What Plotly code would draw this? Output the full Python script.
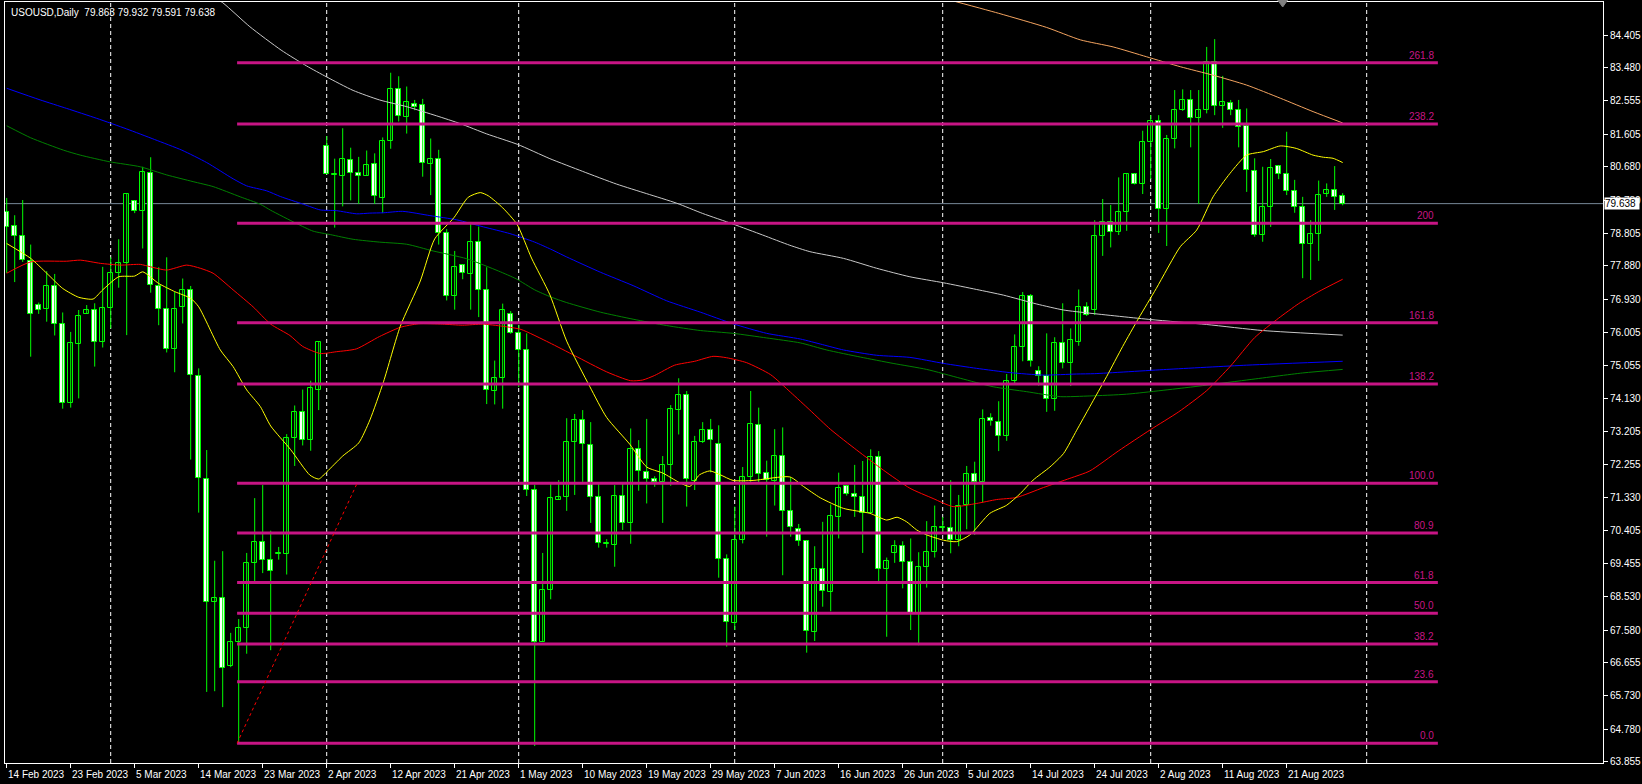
import plotly.graph_objects as go

# ---------------- data ----------------
date_labels = ["14 Feb 2023", "23 Feb 2023", "5 Mar 2023", "14 Mar 2023", "23 Mar 2023",
               "2 Apr 2023", "12 Apr 2023", "21 Apr 2023", "1 May 2023", "10 May 2023",
               "19 May 2023", "29 May 2023", "7 Jun 2023", "16 Jun 2023", "26 Jun 2023",
               "5 Jul 2023", "14 Jul 2023", "24 Jul 2023", "2 Aug 2023", "11 Aug 2023",
               "21 Aug 2023"]
label_bars = [0, 8, 16, 24, 32, 40, 48, 56, 64, 72, 80, 88, 96, 104, 112, 120, 128, 136, 144, 152, 160]
month_start_bars = [13, 40, 64, 91, 117, 143, 170]

price_ticks = [84.405, 83.480, 82.555, 81.605, 80.680, 79.730, 78.805, 77.880, 76.930, 76.005,
               75.055, 74.130, 73.205, 72.255, 71.330, 70.405, 69.455, 68.530, 67.580, 66.655,
               65.730, 64.780, 63.855]

opens = [79.40, 79.00, 78.73, 78.01, 76.78, 76.65, 77.31, 76.23, 73.99, 75.66,
         76.53, 76.64, 75.73, 76.70, 77.67, 77.97, 79.72, 79.43, 80.51, 77.31,
         76.65, 75.52, 76.72, 77.20, 74.76, 71.85, 68.36, 68.50, 66.55, 67.24,
         67.65, 69.47, 70.07, 69.57, 69.74, 69.73, 73.01, 73.76, 72.94, 74.38,
         81.28, 80.45, 80.43, 80.88, 80.50, 80.43, 80.77, 79.81, 81.40, 82.89,
         82.10, 82.45, 82.44, 80.76, 80.91, 78.82, 77.04, 77.89, 77.65, 78.54,
         77.20, 74.35, 74.70, 76.53, 75.99, 75.49, 71.54, 67.25, 68.71, 71.27,
         71.33, 72.89, 73.51, 72.80, 71.33, 70.02, 69.99, 71.36, 70.61, 72.69,
         72.06, 71.84, 71.78, 72.26, 73.79, 74.22, 71.80, 72.89, 73.23, 72.85,
         69.58, 67.77, 70.12, 71.90, 73.39, 72.01, 71.80, 72.49, 70.95, 70.44,
         70.09, 67.53, 69.32, 68.66, 70.78, 71.65, 71.44, 71.35, 70.89, 72.46,
         69.32, 69.75, 69.97, 69.51, 68.02, 69.37, 69.79, 70.47, 70.47, 70.14,
         71.11, 71.98, 71.77, 73.59, 73.47, 73.07, 74.63, 75.59, 77.03, 74.91,
         74.77, 74.10, 75.69, 75.14, 75.73, 76.72, 76.63, 78.73, 79.13, 78.83,
         79.41, 80.47, 80.18, 81.39, 81.97, 79.50, 81.46, 82.28, 82.56, 82.05,
         82.30, 83.63, 82.40, 82.49, 82.28, 81.84, 80.57, 78.75, 79.53, 80.70,
         80.49, 80.00, 79.55, 78.49, 78.77, 79.90, 80.01, 79.863]
highs = [79.80, 79.31, 79.74, 78.48, 76.84, 77.73, 77.65, 76.56, 76.01, 76.63,
         76.77, 76.82, 77.85, 78.12, 78.63, 79.91, 79.74, 80.68, 80.95, 77.84,
         78.12, 77.14, 77.52, 77.31, 74.98, 72.67, 69.54, 69.81, 67.50, 67.89,
         69.76, 71.31, 71.68, 70.39, 69.93, 73.12, 73.93, 74.38, 74.63, 75.75,
         81.55, 80.91, 81.77, 81.22, 80.96, 81.14, 81.06, 81.51, 83.34, 83.24,
         82.95, 82.57, 82.60, 81.48, 81.16, 78.92, 78.30, 77.91, 79.12, 78.99,
         77.84, 75.20, 76.81, 76.60, 76.21, 75.97, 71.69, 69.76, 71.73, 71.82,
         73.57, 73.69, 73.80, 73.46, 71.76, 70.15, 71.68, 71.72, 73.28, 72.95,
         73.55, 71.93, 72.50, 73.94, 74.70, 74.34, 73.07, 73.46, 73.55, 73.37,
         69.72, 71.07, 72.19, 74.34, 73.87, 72.37, 73.26, 73.31, 71.90, 70.58,
         70.12, 69.95, 70.64, 71.13, 72.03, 71.68, 72.25, 72.36, 72.69, 72.64,
         69.63, 70.12, 70.09, 70.17, 69.78, 70.66, 71.10, 70.78, 71.82, 71.40,
         72.22, 72.34, 73.82, 73.71, 74.05, 74.82, 75.94, 77.14, 77.08, 75.04,
         75.97, 75.86, 76.82, 76.11, 77.21, 76.85, 79.17, 79.77, 79.60, 80.38,
         80.49, 80.49, 81.70, 82.14, 82.14, 81.58, 82.85, 82.87, 82.85, 82.85,
         84.07, 84.29, 83.25, 82.57, 82.57, 82.33, 80.92, 80.68, 80.90, 80.71,
         81.67, 80.31, 79.83, 79.17, 80.29, 80.21, 80.70, 79.932]
lows = [77.68, 77.42, 77.99, 75.31, 76.52, 76.30, 75.91, 73.84, 73.87, 74.13,
        76.53, 75.03, 75.57, 76.11, 77.26, 75.92, 79.37, 78.37, 77.12, 76.20,
        75.43, 74.87, 76.25, 72.40, 70.90, 65.83, 65.85, 65.40, 66.53, 64.38,
        66.91, 68.92, 69.19, 67.01, 69.57, 69.15, 72.22, 72.80, 72.65, 73.80,
        80.47, 78.96, 79.56, 79.73, 79.63, 80.42, 79.63, 79.37, 81.19, 81.96,
        81.62, 82.28, 80.40, 79.88, 78.48, 76.90, 76.64, 77.50, 76.64, 76.43,
        73.97, 73.96, 73.84, 75.96, 74.45, 71.37, 64.30, 67.24, 68.45, 71.27,
        70.95, 71.40, 71.77, 70.61, 69.91, 69.91, 69.37, 70.41, 70.02, 71.52,
        71.16, 71.63, 70.61, 71.66, 73.11, 71.07, 71.54, 72.87, 72.04, 69.06,
        67.11, 67.58, 70.03, 71.77, 71.76, 70.22, 71.10, 69.13, 70.22, 69.96,
        66.94, 67.27, 68.24, 68.11, 70.17, 71.38, 70.78, 69.76, 70.89, 68.95,
        67.39, 69.48, 68.76, 67.58, 67.15, 68.78, 69.63, 70.33, 69.75, 69.95,
        70.43, 70.27, 71.19, 73.36, 72.64, 72.93, 74.51, 75.18, 75.03, 74.49,
        73.75, 73.78, 74.98, 74.48, 75.62, 76.46, 76.49, 78.16, 78.40, 78.75,
        78.87, 80.18, 79.91, 80.33, 78.81, 78.44, 81.20, 82.26, 81.23, 79.63,
        82.19, 82.14, 81.78, 82.14, 81.23, 79.97, 78.70, 78.56, 78.98, 80.33,
        79.88, 79.38, 77.53, 77.48, 78.02, 79.83, 79.46, 79.591]
closes = [78.97, 78.73, 78.04, 76.52, 76.64, 77.31, 76.23, 73.99, 75.69, 76.47,
          76.63, 75.73, 76.70, 77.68, 77.97, 79.90, 79.43, 80.54, 77.34, 76.65,
          75.52, 76.67, 77.20, 74.79, 71.87, 68.38, 68.50, 66.50, 67.25, 67.65,
          69.47, 70.07, 69.57, 69.26, 69.75, 73.01, 73.76, 72.94, 74.42, 75.73,
          80.49, 80.49, 80.91, 80.50, 80.42, 80.74, 79.84, 81.40, 82.89, 82.11,
          82.51, 82.37, 80.78, 80.90, 78.82, 77.04, 77.86, 77.67, 78.54, 77.20,
          74.37, 74.70, 76.62, 75.97, 75.49, 71.53, 67.23, 68.70, 71.30, 71.33,
          72.89, 73.51, 72.83, 71.33, 70.03, 70.03, 71.36, 70.62, 72.69, 72.07,
          71.84, 71.78, 72.24, 73.82, 74.22, 71.84, 72.89, 73.23, 72.95, 69.58,
          67.80, 70.12, 71.90, 73.42, 72.00, 71.82, 72.49, 70.95, 70.48, 70.09,
          67.55, 69.32, 68.69, 70.80, 71.61, 71.43, 71.33, 70.89, 72.46, 69.32,
          69.54, 69.97, 69.51, 68.02, 69.37, 69.79, 70.48, 70.48, 70.14, 71.10,
          71.98, 71.77, 73.56, 73.48, 73.06, 74.63, 75.59, 77.03, 75.18, 74.77,
          74.10, 75.69, 75.14, 75.78, 76.72, 76.48, 78.73, 79.13, 78.83, 79.41,
          80.47, 80.18, 81.39, 81.97, 79.50, 81.46, 82.28, 82.56, 82.05, 82.28,
          83.63, 82.40, 82.52, 82.30, 81.81, 80.59, 78.75, 79.53, 80.64, 80.49,
          80.00, 79.55, 78.51, 78.77, 79.87, 80.01, 79.83, 79.638]

ma_yellow_x = [0, 3, 5, 7, 9, 10.8, 12, 14, 16, 17, 19, 21, 23, 24, 26.7, 28.3, 30, 31.7, 33, 35.5,
               37.9, 39, 40, 42, 44, 45.4, 47.1, 49.2, 51.7, 53.5, 55.9, 57.7, 59.2, 60.2, 62, 63.8,
               65.6, 67.9, 70, 72.9, 75, 77.9, 80, 82, 84.1, 85.4, 86.6, 87.9, 89.2, 90.8, 93.3,
               97.9, 99.6, 101.7, 104.6, 107.9, 110, 111.3, 112.5, 113.75, 115, 117.1, 118.75,
               120.4, 122.9, 125, 126.7, 128.3, 130.4, 132.1, 133.75, 135.4, 137.5, 139.5, 141.5,
               143.7, 146.7, 148.75, 150.8, 152.9, 155, 157.1, 159.2, 161.2, 163.3, 164.6, 165.8, 167]
ma_yellow_y = [78.51, 78.09, 77.67, 77.24, 76.99, 76.94, 77.20, 77.57, 77.59, 77.71, 77.38, 77.15,
               76.96, 76.72, 75.50, 75.03, 74.37, 73.90, 73.35, 72.68, 71.96, 71.85, 72.05, 72.50,
               72.87, 73.52, 74.60, 76.17, 77.45, 78.64, 79.24, 79.82, 79.95, 79.86, 79.52, 79.05,
               78.10, 77.06, 75.75, 74.46, 73.59, 72.83, 72.19, 72.02, 71.75, 71.64, 71.97, 72.08,
               71.97, 71.81, 71.81, 71.91, 71.64, 71.32, 71.02, 70.88, 70.69, 70.77, 70.64, 70.41,
               70.27, 70.12, 70.08, 70.27, 70.88, 71.11, 71.44, 71.82, 72.19, 72.57, 73.23, 73.90,
               74.75, 75.60, 76.40, 77.24, 78.42, 78.89, 79.83, 80.49, 81.01, 81.11, 81.27, 81.20,
               81.01, 80.95, 80.92, 80.80]

ma_red_x = [0, 3, 7.5, 9.2, 11.7, 14.2, 16.7, 18, 20, 22.5, 24.2, 25.8, 28.3, 30.8, 33, 35.4, 37,
            39.2, 41.2, 43.7, 46.6, 49.2, 51.5, 54.5, 57, 59.5, 62, 64.3, 67.8, 71, 75, 78, 79.5,
            81, 83.5, 86, 88.3, 90, 92.5, 95.5, 98, 100.4, 103, 106.25, 109.6, 112.9, 115.8,
            118.3, 121.25, 123.75, 126.25, 129.6, 132.9, 135.4, 139, 143, 146.5, 150, 153, 156,
            159, 161.5, 164, 167]
ma_red_y = [77.67, 77.99, 78.01, 78.04, 77.95, 77.90, 77.92, 77.85, 77.76, 77.90, 77.81, 77.67,
            77.20, 76.72, 76.23, 75.91, 75.60, 75.40, 75.45, 75.53, 75.88, 76.14, 76.24, 76.23,
            76.20, 76.23, 76.17, 76.08, 75.71, 75.34, 74.88, 74.63, 74.65, 74.78, 75.07, 75.18,
            75.32, 75.28, 75.14, 74.80, 74.30, 73.80, 73.25, 72.67, 72.10, 71.59, 71.30, 71.07,
            71.16, 71.27, 71.33, 71.61, 71.87, 72.08, 72.65, 73.25, 73.75, 74.35, 75.05, 75.85,
            76.40, 76.81, 77.15, 77.50]

ma_green_x = [0, 3, 7.1, 9.2, 12.9, 16.7, 20, 23.3, 25.8, 29.2, 31.7, 33, 36.2, 38.3, 40.5, 43.3,
              46.6, 50, 53.3, 57.5, 61.5, 63.7, 66, 68, 70, 74.2, 78.3, 82.5, 86.7, 90.8, 95,
              99.2, 102.5, 106.7, 110.8, 115, 119.2, 123.3, 127.5, 131.7, 135.4, 140, 148, 155,
              162, 167]
ma_green_y = [81.84, 81.50, 81.15, 81.01, 80.82, 80.68, 80.45, 80.26, 80.12, 79.83, 79.62, 79.45,
              79.08, 78.86, 78.76, 78.63, 78.55, 78.49, 78.30, 78.08, 77.73, 77.51, 77.20, 77.00,
              76.84, 76.57, 76.37, 76.19, 76.05, 75.97, 75.84, 75.70, 75.50, 75.30, 75.12, 74.95,
              74.70, 74.46, 74.32, 74.18, 74.20, 74.25, 74.45, 74.65, 74.85, 74.95]

ma_blue_x = [0, 4.2, 7.5, 11.25, 15, 18.5, 21.9, 25, 28.3, 30, 32.5, 34.2, 37.1, 39.2, 41.2, 43.75,
             45.4, 47.1, 49.5, 52.9, 56.25, 59.6, 62.9, 66, 68, 70, 74.2, 78.3, 82.5, 86.7, 90.8,
             95, 99.2, 102, 104.6, 108.75, 112.9, 117.1, 121.25, 125.4, 129.6, 133.75, 136, 145,
             155, 167]
ma_blue_y = [82.90, 82.57, 82.33, 82.05, 81.75, 81.45, 81.15, 80.80, 80.34, 80.14, 80.00, 79.84,
             79.62, 79.46, 79.44, 79.35, 79.37, 79.38, 79.42, 79.30, 79.18, 78.98, 78.79, 78.55,
             78.35, 78.13, 77.70, 77.32, 76.89, 76.57, 76.24, 75.97, 75.81, 75.65, 75.50, 75.35,
             75.29, 75.12, 74.98, 74.86, 74.79, 74.82, 74.83, 74.95, 75.07, 75.18]

ma_gray_x = [25, 27, 30.4, 34.3, 37.5, 40, 43.3, 46.6, 50, 53.75, 56.7, 60, 63.9, 67.9, 72, 76.25,
             80, 83.75, 87, 90.8, 94.5, 97.9, 100.4, 104.6, 108.75, 112.9, 117.1, 121.25, 124.6,
             128.75, 132.1, 135.4, 143, 150, 157, 167]
ma_gray_y = [85.60, 85.32, 84.64, 83.98, 83.53, 83.22, 82.84, 82.57, 82.38, 82.12, 81.90, 81.61,
             81.31, 80.91, 80.55, 80.19, 79.92, 79.65, 79.36, 79.06, 78.75, 78.46, 78.28, 78.09,
             77.81, 77.57, 77.40, 77.21, 77.05, 76.80, 76.63, 76.54, 76.36, 76.22, 76.05, 75.92]

ma_orange_x = [117, 124, 130, 134.2, 138.3, 142.5, 146.7, 150.8, 155, 159.2, 163.3, 167]
ma_orange_y = [85.45, 85.02, 84.62, 84.27, 84.07, 83.79, 83.51, 83.27, 82.99, 82.62, 82.24, 81.92]

fib_low = 64.38
fib_high = 71.73
fib_start_bar = 28.8
fib_anchor2_bar = 43.8
fib_end_bar = 178.9
fib_levels = [0.0, 23.6, 38.2, 50.0, 61.8, 80.9, 100.0, 138.2, 161.8, 200.0, 238.2, 261.8]
fib_texts = ["0.0", "23.6", "38.2", "50.0", "61.8", "80.9", "100.0", "138.2", "161.8", "200",
             "238.2", "261.8"]

symbol_title = "USOUSD,Daily  79.863 79.932 79.591 79.638"
last_price = 79.638

# ---------------- styling ----------------
FONT = "Liberation Sans"
GREEN = "#00FF00"
FIB = "#C71585"

n = len(opens)
bars = list(range(n))

fig = go.Figure()

# wicks
wx, wy = [], []
for i in bars:
    wx += [i, i, None]
    wy += [lows[i], highs[i], None]
fig.add_trace(go.Scatter(x=wx, y=wy, mode="lines", line=dict(color=GREEN, width=1),
                         hoverinfo="skip", showlegend=False))

# bodies
ux, ub, uh, dx, db, dh = [], [], [], [], [], []
for i in bars:
    o, c = opens[i], closes[i]
    if c >= o:
        ux.append(i); ub.append(o); uh.append(max(c - o, 0.012))
    else:
        dx.append(i); db.append(c); dh.append(o - c)
fig.add_trace(go.Bar(x=ux, y=uh, base=ub, width=0.6, marker=dict(color="#000000", line=dict(color=GREEN, width=1)),
                     hoverinfo="skip", showlegend=False))
fig.add_trace(go.Bar(x=dx, y=dh, base=db, width=0.6, marker=dict(color="#FFFFFF", line=dict(color=GREEN, width=1)),
                     hoverinfo="skip", showlegend=False))

# moving averages
for xs, ys, col in [(ma_gray_x, ma_gray_y, "#C8C8C8"), (ma_orange_x, ma_orange_y, "#F4A460"),
                    (ma_green_x, ma_green_y, "#008000"), (ma_blue_x, ma_blue_y, "#0000FF"),
                    (ma_red_x, ma_red_y, "#FF0000"), (ma_yellow_x, ma_yellow_y, "#FFFF00")]:
    fig.add_trace(go.Scatter(x=xs, y=ys, mode="lines", line=dict(color=col, width=1, shape="spline", smoothing=0.6),
                             hoverinfo="skip", showlegend=False))

# fibonacci levels
fib_prices = [fib_low + (fib_high - fib_low) * p / 100.0 for p in fib_levels]
fx, fy = [], []
for p in fib_prices:
    fx += [fib_start_bar, fib_end_bar, None]
    fy += [p, p, None]
fig.add_trace(go.Scatter(x=fx, y=fy, mode="lines", line=dict(color=FIB, width=3),
                         hoverinfo="skip", showlegend=False))
fig.add_trace(go.Scatter(x=[fib_start_bar, fib_anchor2_bar], y=[fib_low, fib_high], mode="lines",
                         line=dict(color="#FF0000", width=1, dash="dot"), hoverinfo="skip", showlegend=False))

annotations = []
for p, t in zip(fib_prices, fib_texts):
    annotations.append(dict(x=fib_end_bar, y=p, xref="x", yref="y", text=t, showarrow=False,
                            xanchor="right", yanchor="bottom", yshift=0, xshift=-2,
                            font=dict(family=FONT, size=10, color=FIB)))
for b, t in zip(label_bars, date_labels):
    annotations.append(dict(x=b, y=0, xref="x", yref="paper", text=t, showarrow=False,
                            xanchor="left", yanchor="top", yshift=-4, xshift=-1,
                            font=dict(family=FONT, size=10, color="#FFFFFF")))
annotations.append(dict(x=0, y=1, xref="paper", yref="paper", text=symbol_title, showarrow=False,
                        xanchor="left", yanchor="top", xshift=4, yshift=-3,
                        font=dict(family=FONT, size=10, color="#FFFFFF")))
annotations.append(dict(x=1, y=last_price, xref="paper", yref="y", text="%.3f" % last_price, showarrow=False,
                        xanchor="left", yanchor="middle", xshift=1, width=34, height=11, align="left",
                        bgcolor="#FFFFFF", borderpad=0,
                        font=dict(family=FONT, size=10, color="#000000")))

shapes = []
for b in month_start_bars:
    shapes.append(dict(type="line", xref="x", yref="paper", x0=b, x1=b, y0=0, y1=1, layer="below",
                       line=dict(color="#FFFFFF", width=1, dash="4px,3px")))
shapes.append(dict(type="line", xref="paper", yref="y", x0=0, x1=1, y0=last_price, y1=last_price,
                   layer="below", line=dict(color="#778899", width=1)))
shapes.append(dict(type="path", xref="x", yref="paper", xsizemode="pixel", ysizemode="pixel",
                   xanchor=159.5, yanchor=1, path="M -5,2 L 5,2 L 0,-5 Z",
                   fillcolor="#808080", line=dict(color="#808080", width=1)))

fig.update_layout(
    width=1642, height=784,
    margin=dict(l=5, r=39, t=2, b=21, pad=0),
    paper_bgcolor="#000000", plot_bgcolor="#000000",
    barmode="overlay", bargap=0,
    showlegend=False,
    annotations=annotations, shapes=shapes,
    xaxis=dict(range=[-0.2125, 199.54], showgrid=False, zeroline=False, showline=True,
               linecolor="#FFFFFF", linewidth=1, mirror=True, tickvals=label_bars,
               ticks="outside", ticklen=4, tickcolor="#FFFFFF", showticklabels=False, fixedrange=True),
    yaxis=dict(range=[63.82, 85.34], side="right", showgrid=False, zeroline=False, showline=True,
               linecolor="#FFFFFF", linewidth=1, mirror=True, tickvals=price_ticks,
               ticktext=["%.3f" % v for v in price_ticks], ticks="outside", ticklen=4,
               tickcolor="#FFFFFF", tickfont=dict(family=FONT, size=10, color="#FFFFFF"), fixedrange=True),
)

fig.write_html("out.html", config={"displayModeBar": False},
               post_script="document.body.style.margin='0';document.body.style.overflow='hidden';")
